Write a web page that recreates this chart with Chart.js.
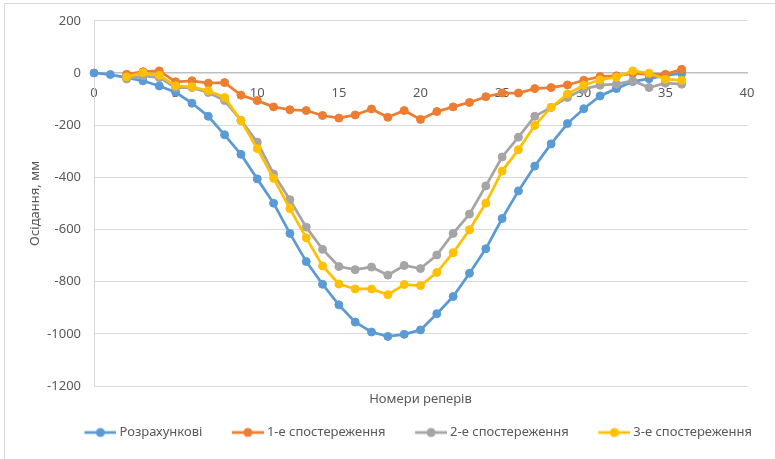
<!DOCTYPE html>
<html>
<head>
<meta charset="utf-8">
<script src="https://cdn.jsdelivr.net/npm/chart.js@4.4.0/dist/chart.umd.min.js"></script>
<style>
  html, body { margin: 0; padding: 0; background: #fff; }
  canvas { display: block; }
</style>
</head>
<body>
<canvas id="chart" width="775" height="459"></canvas>
<script>
// Номери реперів (benchmark numbers along the profile)
const reperNumbers = [0, 1, 2, 3, 4, 5, 6, 7, 8, 9, 10, 11, 12, 13, 14, 15, 16, 17, 18,
  19, 20, 21, 22, 23, 24, 25, 26, 27, 28, 29, 30, 31, 32, 33, 34, 35, 36];

// Розрахункові осідання, мм
const calculated = [0, -6, -18, -30, -50, -74, -116, -166, -237, -312, -406, -499, -615,
  -723, -810, -889, -955, -993, -1010, -1002, -985, -923, -857, -768, -674, -558, -452,
  -357, -272, -194, -137, -88, -60, -33, -22, -9, -2];

// 1-е спостереження (no readings at reper 0 and 1)
const observation1 = [null, null, -5, 5, 8, -34, -30, -39, -37, -85, -106, -130, -141,
  -144, -163, -173, -161, -138, -170, -144, -178, -148, -130, -113, -91, -77, -77,
  -60, -56, -46, -28, -14, -11, -2, -5, -5, 14];

// 2-е спостереження
const observation2 = [null, null, -23, -11, -18, -56, -56, -75, -106, -182, -265, -387, -486,
  -591, -676, -742, -754, -744, -775, -738, -750, -698, -615, -541, -433, -322, -246,
  -166, -132, -94, -62, -47, -43, -30, -56, -39, -43];

// 3-е спостереження
const observation3 = [null, null, -15, 1, -9, -49, -53, -68, -94, -182, -290, -404, -520,
  -632, -740, -809, -828, -828, -850, -811, -815, -765, -689, -601, -499, -376, -294,
  -201, -132, -81, -47, -26, -16, 8, -1, -24, -28];

const seriesNames = ['Розрахункові', '1-е спостереження', '2-е спостереження', '3-е спостереження'];
const seriesColors = ['#5B9BD5', '#ED7D31', '#A5A5A5', '#FFC000'];
const seriesValues = [calculated, observation1, observation2, observation3];

const yTicks = { min: -1200, max: 200, step: 200 };
const xTicks = { min: 0, max: 40, step: 5 };

const textColor = '#595959';
const fontFamily = "'Noto Sans', 'DejaVu Sans', sans-serif";

// Legend marker: a short line with a dot, right-aligned inside a wider transparent strip
function legendMarker(color) {
  const c = document.createElement('canvas');
  c.width = 53; c.height = 12;
  const g = c.getContext('2d');
  g.strokeStyle = color;
  g.lineWidth = 2.75;
  g.beginPath();
  g.moveTo(c.width - 32, 6);
  g.lineTo(c.width, 6);
  g.stroke();
  g.fillStyle = color;
  g.beginPath();
  g.arc(c.width - 16, 6, 4.5, 0, Math.PI * 2);
  g.fill();
  return c;
}

const datasets = seriesValues.map((values, i) => ({
  label: seriesNames[i],
  data: reperNumbers.map((x, k) => ({ x: x, y: values[k] })),
  borderColor: seriesColors[i],
  backgroundColor: seriesColors[i],
  borderWidth: 2.75,
  pointRadius: 4,
  pointBorderWidth: 1,
  pointBorderColor: seriesColors[i],
  pointBackgroundColor: seriesColors[i],
  tension: 0,
  clip: false,
  order: seriesValues.length - i
}));

const chartFrame = {
  id: 'chartFrame',
  beforeDraw(chart) {
    const ctx = chart.ctx;
    ctx.save();
    ctx.fillStyle = '#ffffff';
    ctx.fillRect(0, 0, chart.width, chart.height);
    ctx.strokeStyle = '#d9d9d9';
    ctx.lineWidth = 1;
    ctx.strokeRect(4.5, 3.5, chart.width, chart.height);
    ctx.restore();
  }
};

// plain integers, no thousands separator
const plainNumber = (value) => String(value);

new Chart(document.getElementById('chart'), {
  type: 'line',
  data: { datasets },
  plugins: [chartFrame],
  options: {
    responsive: false,
    animation: false,
    layout: { padding: { left: 0, right: 11, top: 20, bottom: 10 } },
    font: { family: fontFamily, size: 13 },
    plugins: {
      tooltip: { enabled: false },
      legend: {
        position: 'bottom',
        align: 'end',
        labels: {
          usePointStyle: true,
          pointStyleWidth: 46,
          padding: 12,
          color: textColor,
          font: { family: fontFamily, size: 13 },
          generateLabels(chart) {
            return chart.data.datasets.map((ds, i) => ({
              text: ds.label,
              datasetIndex: i,
              pointStyle: legendMarker(ds.borderColor),
              fillStyle: ds.borderColor,
              strokeStyle: ds.borderColor,
              fontColor: textColor,
              lineWidth: 0,
              hidden: false
            }));
          }
        }
      }
    },
    scales: {
      x: {
        type: 'linear',
        position: { y: 0 },
        min: xTicks.min,
        max: xTicks.max,
        ticks: { stepSize: xTicks.step, color: textColor, padding: 5, callback: plainNumber, font: { family: fontFamily, size: 13 } },
        grid: { display: false },
        border: { display: true, color: '#bfbfbf', width: 1.5 }
      },
      x2: {
        type: 'linear',
        position: 'bottom',
        min: xTicks.min,
        max: xTicks.max,
        ticks: { display: false },
        grid: { display: false, drawTicks: false },
        border: { display: false },
        title: {
          display: true,
          text: 'Номери реперів',
          color: textColor,
          font: { family: fontFamily, size: 13 },
          padding: { top: 0, bottom: 7 }
        },
        afterFit(scale) { scale.height = 28; }
      },
      y: {
        type: 'linear',
        position: 'left',
        min: yTicks.min,
        max: yTicks.max,
        ticks: { stepSize: yTicks.step, color: textColor, padding: 13, callback: plainNumber, font: { family: fontFamily, size: 13 } },
        grid: { color: '#d9d9d9', lineWidth: 1, drawTicks: false },
        border: { display: true, color: '#d9d9d9', width: 1 },
        title: {
          display: true,
          text: 'Осідання, мм',
          color: textColor,
          font: { family: fontFamily, size: 13 },
          padding: { top: 27, bottom: 0 }
        },
        afterFit(scale) { scale.width = 94; }
      },
      y2: {
        type: 'linear',
        position: 'right',
        min: 0,
        max: 1,
        ticks: { display: false },
        grid: { display: false, drawTicks: false },
        border: { display: false },
        afterFit(scale) { scale.width = 17; }
      }
    }
  }
});
</script>
</body>
</html>
